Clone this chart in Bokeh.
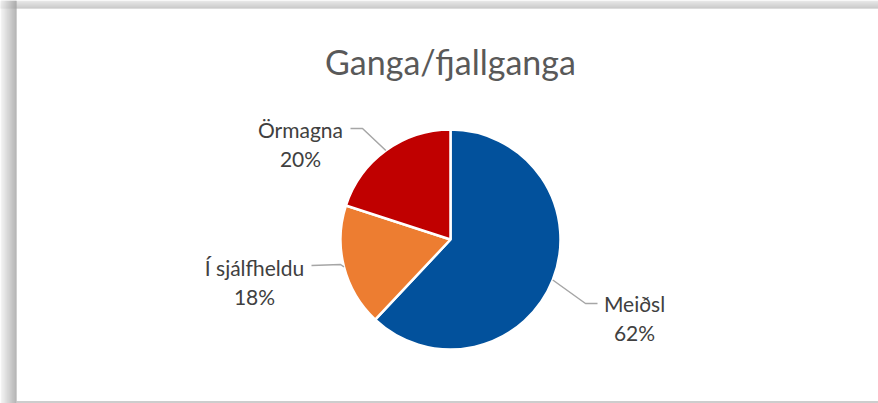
import numpy as np
from bokeh.plotting import figure
from bokeh.models import Range1d, ColumnDataSource
from bokeh.core.properties import value
from bokeh.embed import file_html
from bokeh.resources import INLINE

# ---- data ----
title_text = "Ganga/fjallganga"
categories = ["Meiðsl", "Í sjálfheldu", "Örmagna"]
shares = [62, 18, 20]
colors = ["#02519C", "#ED7D31", "#C00000"]

# ---- layout (image pixel coordinates; y grows downward, plotted as -y) ----
pie_cx, pie_cy, pie_r = 450, 239, 110
label_xy = [(634, 303), (254, 267), (300, 129)]      # baseline of first label line
leader_elbow = [(585, 303), (340, 264), (362, 128)]
leader_end = [(597, 303), (311, 265), (350, 128)]
line_gap = 29

W, H = 878, 403
p = figure(width=W, height=H, output_backend="svg", toolbar_location=None,
           x_range=Range1d(0, W), y_range=Range1d(-H, 0), min_border=0,
           x_axis_type=None, y_axis_type=None)
p.grid.visible = False
p.outline_line_color = None
p.background_fill_color = "white"
p.border_fill_color = "white"

# ---- frame shadow ----
top_rows = np.arange(0, 8)
top_grays = np.linspace(0xE2, 0xBA, len(top_rows)).astype(int)
p.quad(left=[0] * len(top_rows), right=[W] * len(top_rows), top=-top_rows, bottom=-(top_rows + 1),
       fill_color=["#%02x%02x%02x" % (g, g, g) for g in top_grays], line_color=None)
left_cols = np.arange(0, 16)
left_grays = np.linspace(0xF2, 0x9E, len(left_cols)).astype(int)
p.quad(left=left_cols, right=left_cols + 1, top=[0] * len(left_cols), bottom=[-H] * len(left_cols),
       fill_color=["#%02x%02x%02x" % (g, g, g) for g in left_grays], line_color=None)
p.segment(x0=[16], y0=[-401.5], x1=[W], y1=[-401.5], line_color="#BDBDBD", line_width=1.5)

# ---- pie ----
vals = np.array(shares, dtype=float)
frac = vals / vals.sum()
cum = np.cumsum(frac)
prev = np.concatenate([[0], cum[:-1]])
start = np.pi / 2 - 2 * np.pi * prev
end = np.pi / 2 - 2 * np.pi * cum
mid = (start + end) / 2

src = ColumnDataSource(dict(start=start, end=end, color=colors))
p.wedge(x=pie_cx, y=-pie_cy, radius=pie_r, start_angle="start", end_angle="end",
        direction="clock", fill_color="color", line_color="white", line_width=2.5, source=src)

# ---- leader lines ----
xs, ys = [], []
for i in range(len(categories)):
    ex = pie_cx + pie_r * np.cos(mid[i])
    ey = -pie_cy + pie_r * np.sin(mid[i])
    xs.append([ex, leader_elbow[i][0], leader_end[i][0]])
    ys.append([ey, -leader_elbow[i][1], -leader_end[i][1]])
p.multi_line(xs=xs, ys=ys, line_color="#A6A6A6", line_width=1.5)

# ---- labels ----
pct = [f"{round(f * 100)}%" for f in frac]
lx = [xy[0] for xy in label_xy]
ly = [-xy[1] for xy in label_xy]
p.text(x=lx, y=ly, text=categories, text_font=value("Lato"), text_font_size="21px",
       text_color="#404040", text_align="center", text_baseline="alphabetic")
p.text(x=lx, y=[v - line_gap for v in ly], text=pct, text_font=value("Lato"), text_font_size="21px",
       text_color="#404040", text_align="center", text_baseline="alphabetic")

# ---- title ----
p.text(x=[450], y=[-61], text=[title_text], text_font=value("Lato"), text_font_size="34px",
       text_color="#595959", text_align="center", text_baseline="alphabetic")

open("out.html", "w").write(file_html(p, INLINE))
